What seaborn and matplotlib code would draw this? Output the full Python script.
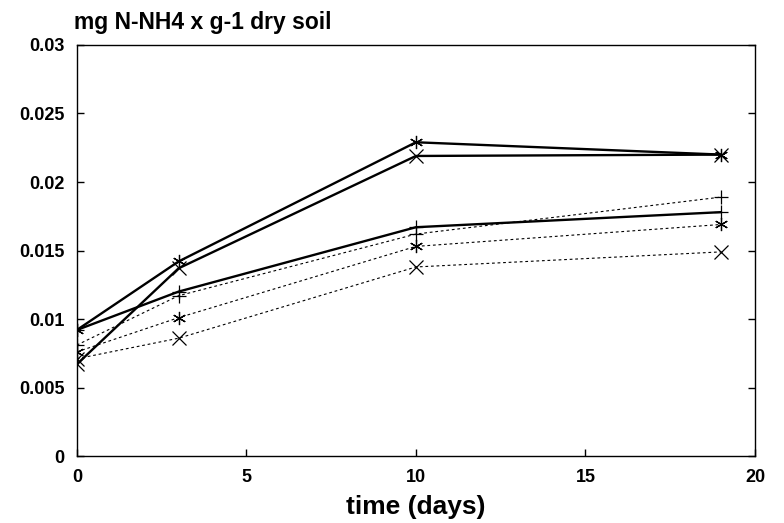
import matplotlib
matplotlib.use("Agg")
import matplotlib.pyplot as plt
import seaborn as sns
import pandas as pd

days = [0, 3, 10, 19]
solid_star = [0.0092, 0.0142, 0.0229, 0.0220]
solid_x = [0.0067, 0.0137, 0.0219, 0.0220]
solid_plus = [0.0092, 0.0120, 0.0167, 0.0178]
dashed_plus = [0.0081, 0.0117, 0.0162, 0.0189]
dashed_star = [0.0076, 0.0101, 0.0153, 0.0169]
dashed_x = [0.0071, 0.0086, 0.0138, 0.0149]

series = {
    "solid_star": solid_star,
    "solid_x": solid_x,
    "solid_plus": solid_plus,
    "dashed_plus": dashed_plus,
    "dashed_star": dashed_star,
    "dashed_x": dashed_x,
}
rows = []
for name, vals in series.items():
    for d, v in zip(days, vals):
        rows.append({"day": d, "value": v, "series": name})
df = pd.DataFrame(rows)

sns.set_theme(style="white")
plt.rcParams['font.family'] = ['Liberation Sans', 'DejaVu Sans']
plt.rcParams['text.color'] = 'black'
plt.rcParams['axes.labelcolor'] = 'black'

fig = plt.figure(figsize=(7.84, 5.23), dpi=100)
ax = fig.add_axes([0.098, 0.128, 0.865, 0.786])

asterisk = (6, 2, 0)
markers = {"solid_star": asterisk, "solid_x": "x", "solid_plus": "+",
           "dashed_plus": "+", "dashed_star": asterisk, "dashed_x": "x"}
dashes = {"solid_star": "", "solid_x": "", "solid_plus": "",
          "dashed_plus": (2.5, 2.5), "dashed_star": (2.5, 2.5), "dashed_x": (2.5, 2.5)}
sizes = {"solid_star": 1.7, "solid_x": 1.7, "solid_plus": 1.7,
         "dashed_plus": 0.8, "dashed_star": 0.8, "dashed_x": 0.8}
palette = {k: "black" for k in series}

sns.lineplot(data=df, x="day", y="value", hue="series", style="series",
             size="series", sizes=sizes, markers=markers, dashes=dashes,
             palette=palette, markersize=9.5, markeredgewidth=0.9,
             markeredgecolor="black", legend=False, ax=ax)

ax.set_xlim(0, 20)
ax.set_ylim(0, 0.03)
ax.set_xticks([0, 5, 10, 15, 20])
ax.set_xticklabels(["0", "5", "10", "15", "20"])
ax.set_yticks([0, 0.005, 0.01, 0.015, 0.02, 0.025, 0.03])
ax.set_yticklabels(["0", "0.005", "0.01", "0.015", "0.02", "0.025", "0.03"])
for s in ax.spines.values():
    s.set_color("black")
    s.set_linewidth(1.0)
ax.tick_params(axis="both", direction="in", length=5, width=1, colors="black",
               labelsize=13, top=False, right=True, bottom=True, left=True)
ax.tick_params(axis="x", pad=9)
ax.tick_params(axis="y", pad=9)
for lab in ax.get_xticklabels() + ax.get_yticklabels():
    lab.set_fontweight("bold")
ax.set_xlabel("time (days)", fontsize=19, fontweight="bold", labelpad=7)
ax.set_ylabel("")
fig.text(0.094, 0.935, "mg N-NH4 x g-1 dry soil", fontsize=16.5, fontweight="bold",
         ha="left", va="bottom", color="black")

fig.savefig("out.png", dpi=100, facecolor="white")
